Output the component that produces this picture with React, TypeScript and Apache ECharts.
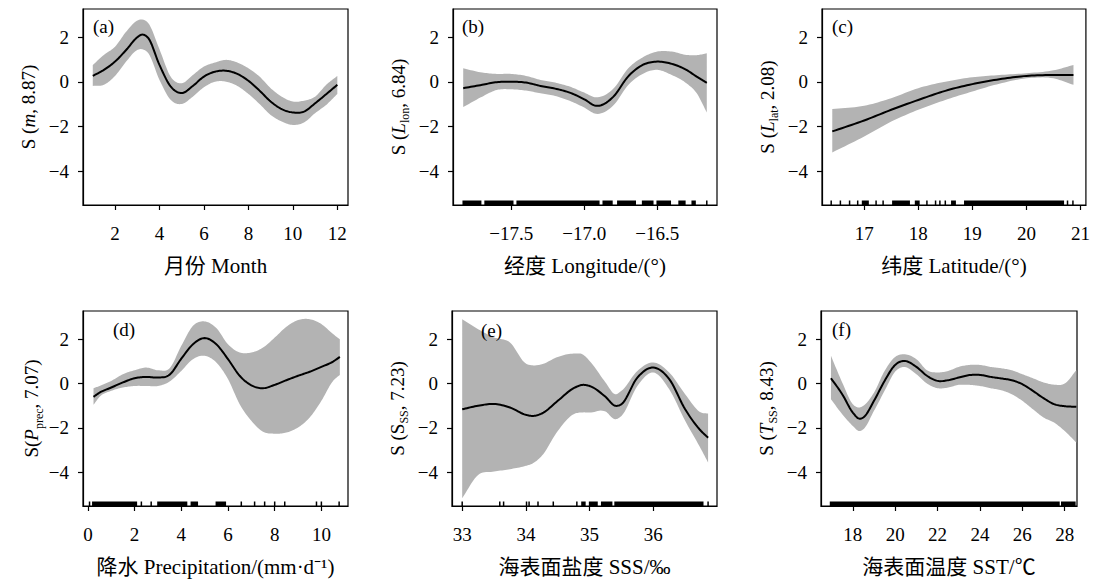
import React, { useEffect, useRef } from "react";
import * as echarts from "echarts";

// ---------- data ----------
const aX = [1, 1.5, 2, 2.5, 3, 3.2, 3.5, 4, 4.5, 5, 5.5, 6, 6.5, 7, 7.5, 8, 8.5, 9, 9.5, 10, 10.5, 11, 11.5, 12];
const aFit = [0.27, 0.54, 0.91, 1.43, 2.0, 2.12, 1.96, 0.76, -0.2, -0.5, -0.18, 0.24, 0.46, 0.5, 0.36, 0.05, -0.39, -0.88, -1.22, -1.37, -1.33, -0.96, -0.55, -0.13];
const aUpper = [0.76, 1.21, 1.58, 2.25, 2.75, 2.8, 2.63, 1.46, 0.24, -0.06, 0.31, 0.69, 0.87, 0.99, 0.87, 0.61, 0.24, -0.28, -0.66, -0.88, -0.84, -0.66, -0.13, 0.27];
const aLower = [-0.18, -0.13, 0.27, 0.91, 1.43, 1.47, 1.28, 0.09, -0.8, -0.99, -0.66, -0.24, 0.01, 0.01, -0.18, -0.54, -0.99, -1.48, -1.78, -1.93, -1.82, -1.4, -1.03, -0.54];

const bX = [-17.83, -17.7, -17.6, -17.5, -17.4, -17.3, -17.2, -17.1, -17.0, -16.92, -16.8, -16.7, -16.6, -16.5, -16.4, -16.3, -16.23, -16.16];
const bFit = [-0.28, -0.13, -0.01, 0.01, -0.03, -0.18, -0.3, -0.48, -0.78, -1.07, -0.66, 0.24, 0.76, 0.91, 0.81, 0.54, 0.24, -0.04];
const bUpper = [0.61, 0.42, 0.36, 0.36, 0.27, 0.09, -0.03, -0.21, -0.48, -0.69, -0.3, 0.6, 1.1, 1.36, 1.36, 1.21, 1.2, 1.28];
const bLower = [-1.13, -0.66, -0.36, -0.33, -0.39, -0.51, -0.63, -0.85, -1.15, -1.43, -1.05, -0.15, 0.36, 0.54, 0.31, -0.06, -0.5, -1.37];

const cX = [16.41, 17, 17.5, 18, 18.5, 19, 19.5, 20, 20.5, 20.87];
const cFit = [-2.22, -1.73, -1.25, -0.81, -0.4, -0.1, 0.12, 0.27, 0.31, 0.31];
const cUpper = [-1.22, -1.07, -0.73, -0.28, 0.01, 0.21, 0.31, 0.39, 0.52, 0.76];
const cLower = [-3.16, -2.45, -1.78, -1.25, -0.81, -0.43, -0.08, 0.16, 0.16, -0.13];

const dX = [0.24, 0.5, 1, 1.5, 2, 2.5, 3, 3.5, 4, 4.5, 5, 5.5, 6, 6.5, 7, 7.5, 8, 8.5, 9, 9.5, 10, 10.5, 10.79];
const dFit = [-0.6, -0.41, -0.18, 0.05, 0.24, 0.3, 0.27, 0.4, 1.12, 1.77, 2.05, 1.77, 1.1, 0.35, -0.08, -0.21, -0.06, 0.15, 0.35, 0.53, 0.75, 0.99, 1.2];
const dUpper = [-0.21, -0.11, 0.12, 0.42, 0.6, 0.72, 0.6, 0.69, 1.7, 2.6, 2.8, 2.5, 1.77, 1.4, 1.4, 1.62, 2.07, 2.56, 2.86, 2.9, 2.68, 2.23, 2.0];
const dLower = [-0.96, -0.6, -0.33, -0.18, -0.11, -0.11, -0.11, 0.09, 0.57, 1.1, 1.25, 0.95, 0.2, -0.93, -1.68, -2.17, -2.26, -2.21, -1.98, -1.53, -0.78, 0.12, 0.39];

const eX = [33, 33.25, 33.5, 33.75, 34, 34.1, 34.25, 34.5, 34.75, 34.9, 35, 35.25, 35.4, 35.5, 35.75, 36, 36.25, 36.5, 36.75, 36.86];
const eFit = [-1.16, -1.0, -0.92, -1.08, -1.41, -1.46, -1.35, -0.78, -0.21, -0.06, -0.11, -0.6, -1.0, -0.93, 0.27, 0.72, 0.2, -1.16, -2.14, -2.44];
const eUpper = [2.9, 2.45, 2.08, 1.85, 0.9, 0.82, 0.87, 1.2, 1.35, 1.3, 1.02, 0.05, -0.48, -0.33, 0.57, 0.95, 0.5, -0.48, -1.31, -1.35];
const eLower = [-5.17, -4.12, -3.97, -3.86, -3.71, -3.61, -3.26, -2.14, -1.38, -1.3, -1.31, -1.26, -1.61, -1.46, -0.11, 0.5, -0.26, -1.68, -2.96, -3.56];

const fX = [16.97, 17.5, 18, 18.3, 18.5, 19, 19.5, 20, 20.4, 21, 21.5, 22, 22.5, 23, 23.5, 24, 24.5, 25, 25.5, 26, 26.5, 27, 27.5, 28, 28.55];
const fFit = [0.24, -0.48, -1.31, -1.58, -1.53, -0.78, 0.12, 0.84, 1.02, 0.75, 0.35, 0.12, 0.15, 0.27, 0.38, 0.39, 0.3, 0.23, 0.15, -0.03, -0.33, -0.66, -0.93, -1.02, -1.05];
const fUpper = [1.25, 0.05, -0.93, -1.08, -1.0, -0.41, 0.57, 1.2, 1.32, 1.1, 0.6, 0.5, 0.57, 0.75, 0.84, 0.84, 0.75, 0.69, 0.6, 0.42, 0.24, 0.05, -0.05, 0.0, 0.6];
const fLower = [-0.71, -1.38, -1.91, -2.14, -2.06, -1.23, -0.33, 0.54, 0.75, 0.42, 0.0, -0.21, -0.18, -0.06, -0.06, -0.11, -0.21, -0.3, -0.48, -0.78, -1.16, -1.53, -1.76, -2.14, -2.66];

// rug marks: [start, end] of observation runs (single observations have start === end)
const rugA: [number, number][] = [];
const rugB: [number, number][] = [[-17.83, -17.7], [-17.68, -17.48], [-17.46, -16.89], [-16.87, -16.8], [-16.77, -16.64], [-16.6, -16.52], [-16.5, -16.4], [-16.35, -16.3], [-16.26, -16.23], [-16.16, -16.16]];
const rugC: [number, number][] = [[16.39, 16.39], [16.56, 16.56], [16.73, 16.73], [16.88, 16.88], [16.97, 17.1], [17.22, 17.22], [17.35, 17.35], [17.53, 17.86], [17.95, 18.04], [18.16, 18.16], [18.32, 18.32], [18.4, 18.4], [18.5, 18.5], [18.62, 18.71], [18.86, 20.71], [20.76, 20.76], [20.86, 20.86]];
const rugD: [number, number][] = [[0.07, 0.07], [0.21, 2.14], [2.29, 2.29], [2.71, 2.71], [3.0, 4.29], [4.43, 4.75], [5.5, 5.95], [6.57, 6.57], [7.14, 7.14], [7.57, 7.57], [8.0, 8.0], [8.43, 8.47], [9.79, 9.79], [10.0, 10.0], [10.76, 10.79]];
const rugE: [number, number][] = [[33.0, 33.0], [33.59, 33.59], [33.65, 33.65], [34.01, 34.01], [34.05, 34.05], [34.19, 34.19], [34.43, 34.43], [34.8, 34.8], [34.88, 34.95], [35.0, 35.14], [35.19, 35.37], [35.4, 36.8], [36.86, 36.86]];
const rugF: [number, number][] = [[16.95, 27.8], [27.86, 28.55]];

const xTicksA = [2, 4, 6, 8, 10, 12];
const xTicksB = [-17.5, -17.0, -16.5];
const xTicksC = [17, 18, 19, 20, 21];
const xTicksD = [0, 2, 4, 6, 8, 10];
const xTicksE = [33, 34, 35, 36];
const xTicksF = [18, 20, 22, 24, 26, 28];
const yTicks = [-4, -2, 0, 2];

const panelLetters = ["(a)", "(b)", "(c)", "(d)", "(e)", "(f)"];
const xTitles = ["月份 Month", "经度 Longitude/(°)", "纬度 Latitude/(°)", "降水 Precipitation/(mm·d⁻¹)", "海表面盐度 SSS/‰", "海表面温度 SST/℃"];
const yTitles = [
  "{n|S (}{i|m}{n|, 8.87)}",
  "{n|S (}{i|L}{sub|lon}{n|, 6.84)}",
  "{n|S (}{i|L}{sub|lat}{n|, 2.08)}",
  "{n|S(}{i|P}{sub|prec}{n|, 7.07)}",
  "{n|S (S}{sub|SS}{n|, 7.23)}",
  "{n|S (}{i|T}{sub|SS}{n|, 8.43)}",
];

// ---------- layout ----------
const FONT = '"Liberation Serif", "Times New Roman", "Noto Sans CJK SC", serif';
const Y_MIN = -5.52;
const Y_MAX = 3.27;
const BAND = "#b3b3b3";
const grids = [
  { left: 83, top: 9, width: 265, height: 196 },
  { left: 453, top: 9, width: 264, height: 196 },
  { left: 822, top: 9, width: 267, height: 196 },
  { left: 83, top: 311, width: 265, height: 195 },
  { left: 452, top: 311, width: 265, height: 195 },
  { left: 821, top: 311, width: 256, height: 195 },
];
const xRanges = [
  [0.56, 12.48],
  [-17.9, -16.09],
  [16.22, 21.1],
  [-0.21, 11.14],
  [32.84, 37.0],
  [16.5, 28.58],
];
const yNameGaps = [42, 42, 42, 37, 42, 42];
const letterPos = [
  [93, 26], [462, 26], [832, 26], [113, 329], [481, 330], [832, 329],
];

const panels = [
  { x: aX, fit: aFit, up: aUpper, lo: aLower, rug: rugA, ticks: xTicksA, dec: 0 },
  { x: bX, fit: bFit, up: bUpper, lo: bLower, rug: rugB, ticks: xTicksB, dec: 1 },
  { x: cX, fit: cFit, up: cUpper, lo: cLower, rug: rugC, ticks: xTicksC, dec: 0 },
  { x: dX, fit: dFit, up: dUpper, lo: dLower, rug: rugD, ticks: xTicksD, dec: 0 },
  { x: eX, fit: eFit, up: eUpper, lo: eLower, rug: rugE, ticks: xTicksE, dec: 0 },
  { x: fX, fit: fFit, up: fUpper, lo: fLower, rug: rugF, ticks: xTicksF, dec: 0 },
];

const fmtNum = (v: number, dec: number) => (v < 0 ? "\u2212" : "") + Math.abs(v).toFixed(dec);

// smooth drawing of pixel-space points (cubic Hermite, x-monotone)
function smoothPx(pts: number[][], n = 10): number[][] {
  const N = pts.length;
  if (N < 3) return pts;
  const m: number[] = [];
  for (let k = 0; k < N; k++) {
    if (k === 0) m.push((pts[1][1] - pts[0][1]) / (pts[1][0] - pts[0][0]));
    else if (k === N - 1) m.push((pts[N - 1][1] - pts[N - 2][1]) / (pts[N - 1][0] - pts[N - 2][0]));
    else {
      const h0 = pts[k][0] - pts[k - 1][0];
      const h1 = pts[k + 1][0] - pts[k][0];
      const d0 = (pts[k][1] - pts[k - 1][1]) / h0;
      const d1 = (pts[k + 1][1] - pts[k][1]) / h1;
      m.push((d0 * h1 + d1 * h0) / (h0 + h1));
    }
  }
  const out: number[][] = [pts[0]];
  for (let k = 0; k < N - 1; k++) {
    const [x0, y0] = pts[k];
    const [x1, y1] = pts[k + 1];
    const h = x1 - x0;
    for (let j = 1; j <= n; j++) {
      const t = j / n, t2 = t * t, t3 = t2 * t;
      const h00 = 2 * t3 - 3 * t2 + 1, h10 = t3 - 2 * t2 + t, h01 = -2 * t3 + 3 * t2, h11 = t3 - t2;
      out.push([x0 + h * t, h00 * y0 + h10 * h * m[k] + h01 * y1 + h11 * h * m[k + 1]]);
    }
  }
  return out;
}

function buildOption() {
  const xAxis: any[] = [];
  const yAxis: any[] = [];
  const series: any[] = [];
  const graphic: any[] = [];

  panels.forEach((p, i) => {
    xAxis.push({
      type: "value",
      gridIndex: i,
      min: xRanges[i][0],
      max: xRanges[i][1],
      axisLine: { show: true, onZero: false, lineStyle: { color: "#000", width: 1.2 } },
      axisTick: { show: true, inside: false, length: 5, customValues: p.ticks, lineStyle: { color: "#000", width: 1.2 } },
      axisLabel: {
        customValues: p.ticks,
        formatter: (v: number) => fmtNum(v, p.dec),
        color: "#000",
        fontSize: 19,
        fontFamily: FONT,
        margin: 19,
      },
      splitLine: { show: false },
      name: xTitles[i],
      nameLocation: "middle",
      nameGap: 50,
      nameTextStyle: { color: "#000", fontSize: 21, fontFamily: FONT },
    });
    yAxis.push({
      type: "value",
      gridIndex: i,
      min: Y_MIN,
      max: Y_MAX,
      axisLine: { show: true, onZero: false, lineStyle: { color: "#000", width: 1.2 } },
      axisTick: { show: true, inside: false, length: 5, customValues: yTicks, lineStyle: { color: "#000", width: 1.2 } },
      axisLabel: {
        customValues: yTicks,
        formatter: (v: number) => fmtNum(v, 0),
        color: "#000",
        fontSize: 19,
        fontFamily: FONT,
        margin: 14,
      },
      splitLine: { show: false },
      name: yTitles[i],
      nameLocation: "middle",
      nameRotate: 90,
      nameGap: yNameGaps[i],
      nameTextStyle: {
        color: "#000",
        fontSize: 19,
        fontFamily: FONT,
        rich: {
          n: { fontSize: 19, fontFamily: FONT, color: "#000", lineHeight: 26, verticalAlign: "middle" },
          i: { fontSize: 19, fontFamily: FONT, fontStyle: "italic", color: "#000", lineHeight: 26, verticalAlign: "middle" },
          sub: { fontSize: 12, fontFamily: FONT, color: "#000", lineHeight: 26, verticalAlign: "bottom" },
        },
      },
    });

    const rows = p.x.map((x, k) => [x, p.fit[k], p.lo[k], p.up[k]]);

    // confidence band + fitted smooth curve
    series.push({
      type: "custom",
      xAxisIndex: i,
      yAxisIndex: i,
      data: rows,
      encode: { x: 0, y: [1, 2, 3] },
      silent: true,
      z: 2,
      renderItem: (params: any, api: any) => {
        if (params.dataIndex !== 0) return null;
        const upPx = smoothPx(p.x.map((x, k) => api.coord([x, p.up[k]])));
        const loPx = smoothPx(p.x.map((x, k) => api.coord([x, p.lo[k]])));
        const fitPx = smoothPx(p.x.map((x, k) => api.coord([x, p.fit[k]])));
        return {
          type: "group",
          children: [
            {
              type: "polygon",
              shape: { points: upPx.concat(loPx.slice().reverse()) },
              style: { fill: BAND, stroke: "none" },
            },
            {
              type: "polyline",
              shape: { points: fitPx },
              style: { fill: "none", stroke: "#000", lineWidth: 2 },
            },
          ],
        };
      },
    });

    // rug
    if (p.rug.length) {
      series.push({
        type: "custom",
        xAxisIndex: i,
        yAxisIndex: i,
        data: p.rug.map((r) => [r[0], r[1]]),
        encode: { x: [0, 1] },
        silent: true,
        z: 4,
        renderItem: (params: any, api: any) => {
          const s = api.coord([api.value(0), Y_MIN]);
          const e = api.coord([api.value(1), Y_MIN]);
          const w = Math.max(e[0] - s[0], 1.5);
          return {
            type: "rect",
            shape: { x: s[0] - 0.75, y: s[1] - 4.5, width: w, height: 5 },
            style: { fill: "#000" },
          };
        },
      });
    }

    graphic.push({
      type: "text",
      x: letterPos[i][0],
      y: letterPos[i][1],
      z: 10,
      style: {
        text: panelLetters[i],
        fill: "#000",
        fontSize: 19,
        fontFamily: FONT,
        verticalAlign: "middle",
        align: "left",
      },
    });
  });

  return {
    animation: false,
    backgroundColor: "#fff",
    grid: grids.map((g) => ({ ...g, show: true, borderColor: "#000", borderWidth: 1.2, backgroundColor: "transparent", containLabel: false })),
    xAxis,
    yAxis,
    series,
    graphic,
  };
}

export default function App() {
  const ref = useRef<HTMLDivElement>(null);
  useEffect(() => {
    document.body.style.margin = "0";
    if (!ref.current) return;
    const chart = echarts.init(ref.current, undefined, { renderer: "svg" });
    chart.setOption(buildOption() as any);
    return () => chart.dispose();
  }, []);
  return <div ref={ref} style={{ width: 1093, height: 579 }} />;
}
